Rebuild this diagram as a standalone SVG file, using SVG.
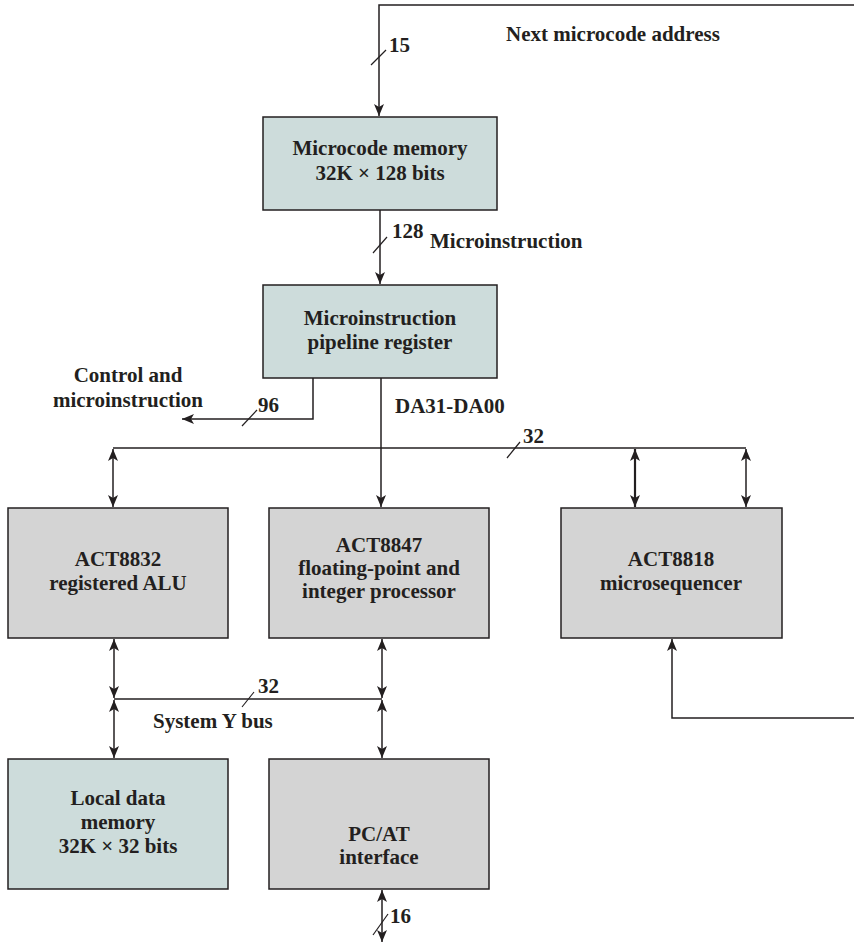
<svg xmlns="http://www.w3.org/2000/svg" width="854" height="943" viewBox="0 0 854 943">
<style>
text{font-family:"Liberation Serif","Times New Roman",serif;font-weight:bold;fill:#231f20;font-size:21px}
.c{text-anchor:middle}
.box{stroke:#231f20;stroke-width:1.5}
.mem{fill:#cddcdb}
.proc{fill:#d4d4d4}
.ln{fill:none;stroke:#231f20;stroke-width:1.5}
.sl{stroke:#231f20;stroke-width:1.2}
</style>
<defs>
<marker id="ah" markerUnits="userSpaceOnUse" markerWidth="13" markerHeight="10" refX="12" refY="5" orient="auto">
<path d="M0,0 L12,5 L0,10 L3,5 z" fill="#231f20"/>
</marker>
<marker id="as" markerUnits="userSpaceOnUse" markerWidth="13" markerHeight="10" refX="12" refY="5" orient="auto-start-reverse">
<path d="M0,0 L12,5 L0,10 L3,5 z" fill="#231f20"/>
</marker>
</defs>
<g id="connectors">
<path class="ln" d="M854,5 H379 V116" marker-end="url(#ah)"/>
<line class="sl" x1="371" y1="65" x2="386" y2="50"/>
<path class="ln" d="M380,210 V284" marker-end="url(#ah)"/>
<line class="sl" x1="373" y1="253" x2="387" y2="237"/>
<path class="ln" d="M381,378 V507" marker-end="url(#ah)"/>
<path class="ln" d="M313,378 V419 H182" marker-end="url(#ah)"/>
<line class="sl" x1="242" y1="426" x2="257" y2="410"/>
<path class="ln" d="M113,448 H746"/>
<line class="sl" x1="507" y1="458" x2="520" y2="442"/>
<path class="ln" d="M113,449 V507" marker-start="url(#as)" marker-end="url(#as)"/>
<path class="ln" d="M635,449 V507" style="stroke-width:2.2" marker-start="url(#as)" marker-end="url(#as)"/>
<path class="ln" d="M746,449 V507" marker-start="url(#as)" marker-end="url(#as)"/>
<path class="ln" d="M114,639 V698" marker-start="url(#as)" marker-end="url(#as)"/>
<path class="ln" d="M114,699 H382"/>
<path class="ln" d="M114,700 V758" marker-start="url(#as)" marker-end="url(#as)"/>
<path class="ln" d="M382,639 V698" marker-start="url(#as)" marker-end="url(#as)"/>
<path class="ln" d="M382,700 V758" marker-start="url(#as)" marker-end="url(#as)"/>
<line class="sl" x1="242" y1="707" x2="254" y2="692"/>
<path class="ln" d="M382,890 V942" marker-start="url(#as)" marker-end="url(#as)"/>
<line class="sl" x1="373" y1="935" x2="388" y2="914"/>
<path class="ln" d="M854,718 H672 V639" marker-end="url(#ah)"/>
</g>
<g id="labels">
<text x="506" y="41">Next microcode address</text>
<text x="389" y="52">15</text>
<text x="392" y="238">128</text>
<text x="430" y="248">Microinstruction</text>
<text class="c" x="128" y="382">Control and</text>
<text class="c" x="128" y="407">microinstruction</text>
<text x="258" y="412">96</text>
<text x="395" y="413">DA31-DA00</text>
<text x="523" y="443">32</text>
<text x="258" y="693">32</text>
<text x="153" y="728">System Y bus</text>
<text x="390" y="923">16</text>
</g>
<g id="microcode-memory">
<rect class="box mem" x="263" y="117" width="234" height="93"/>
<text class="c" x="380" y="155">Microcode memory</text>
<text class="c" x="380" y="180">32K × 128 bits</text>
</g>
<g id="pipeline-register">
<rect class="box mem" x="263" y="285" width="234" height="93"/>
<text class="c" x="380" y="325">Microinstruction</text>
<text class="c" x="380" y="349">pipeline register</text>
</g>
<g id="act8832">
<rect class="box proc" x="8" y="508" width="220" height="130"/>
<text class="c" x="118" y="566">ACT8832</text>
<text class="c" x="118" y="590">registered ALU</text>
</g>
<g id="act8847">
<rect class="box proc" x="269" y="508" width="220" height="130"/>
<text class="c" x="379" y="552">ACT8847</text>
<text class="c" x="379" y="575">floating-point and</text>
<text class="c" x="379" y="598">integer processor</text>
</g>
<g id="act8818">
<rect class="box proc" x="561" y="508" width="221" height="130"/>
<text class="c" x="671" y="566">ACT8818</text>
<text class="c" x="671" y="590">microsequencer</text>
</g>
<g id="local-data-memory">
<rect class="box mem" x="8" y="759" width="220" height="130"/>
<text class="c" x="118" y="805">Local data</text>
<text class="c" x="118" y="829">memory</text>
<text class="c" x="118" y="853">32K × 32 bits</text>
</g>
<g id="pc-at-interface">
<rect class="box proc" x="269" y="759" width="220" height="130"/>
<text class="c" x="379" y="841">PC/AT</text>
<text class="c" x="379" y="864">interface</text>
</g>
</svg>
